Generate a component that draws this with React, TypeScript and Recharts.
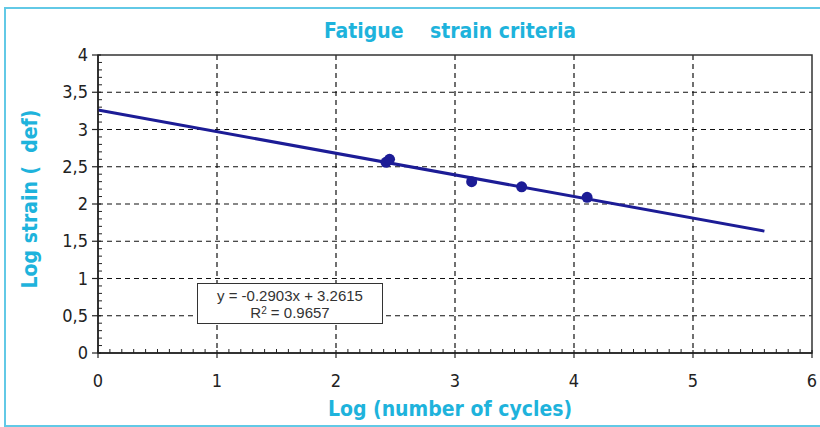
import { CartesianGrid, ComposedChart, Line, ReferenceArea, Scatter, XAxis, YAxis } from "recharts"

// measured points (log cycles, log strain)
const pointX = [2.42, 2.45, 3.14, 3.56, 4.11]
const pointY = [2.56, 2.6, 2.3, 2.23, 2.09]

// linear trend line y = -0.2903x + 3.2615
const trendX = [0, 5.6]
const trendY = [3.2615, 1.636]

const xLabels = [0, 1, 2, 3, 4, 5, 6]
const yLabels = [0, 0.5, 1, 1.5, 2, 2.5, 3, 3.5, 4]

const xTicks = Array.from({ length: 61 }, (_, i) => i / 10)
const yTicks = Array.from({ length: 41 }, (_, i) => i / 10)

const points = pointX.map((x, i) => ({ x, y: pointY[i] }))
const trend = trendX.map((x, i) => ({ x, y: trendY[i] }))

const CYAN = "#1eb3dc"
const NAVY = "#1c1c96"
const narrow = "'Liberation Sans Narrow', 'DejaVu Sans Condensed', 'Arial Narrow', sans-serif"

const isOn = (v: number, list: number[]) => list.some((l) => Math.abs(l - v) < 1e-6)

const XTick = ({ x, y, payload }: any) => {
  const v = payload.value
  const major = isOn(v, xLabels)
  return (
    <g>
      {major ? (
        <line x1={x} x2={x} y1={y - 3} y2={y + 5} stroke="#222" strokeWidth={1.2} />
      ) : (
        <line x1={x} x2={x} y1={y} y2={y - 4} stroke="#222" strokeWidth={1} />
      )}
      {major && (
        <text x={x} y={y + 34} textAnchor="middle" fontSize={18} fill="#222" fontFamily={narrow}>
          {v}
        </text>
      )}
    </g>
  )
}

const YTick = ({ x, y, payload }: any) => {
  const v = payload.value
  const major = isOn(v, yLabels)
  return (
    <g>
      {major ? (
        <line x1={x - 6} x2={x + 3} y1={y} y2={y} stroke="#222" strokeWidth={1.2} />
      ) : (
        <line x1={x} x2={x + 4} y1={y} y2={y} stroke="#222" strokeWidth={1} />
      )}
      {major && (
        <text x={x - 10} y={y + 6} textAnchor="end" fontSize={18} fill="#222" fontFamily={narrow}>
          {String(v).replace(".", ",")}
        </text>
      )}
    </g>
  )
}

const Dot = (props: any) => <circle cx={props.cx} cy={props.cy} r={5.5} fill={NAVY} />

export default function App() {
  return (
    <div style={{ position: "absolute", left: 0, top: 0, width: 820, height: 427, overflow: "hidden", background: "#fff" }}>
      <div
        style={{
          position: "absolute",
          left: 4,
          top: 7,
          width: 840,
          height: 416,
          border: "2px solid #62c9e6",
        }}
      />
      <ComposedChart width={820} height={427} margin={{ top: 55, right: 8, left: 0, bottom: 0 }}>
        <CartesianGrid
          horizontalValues={[0.5, 1, 1.5, 2, 2.5, 3, 3.5]}
          verticalValues={[1, 2, 3, 4, 5]}
          stroke="#111"
          strokeWidth={1.2}
          strokeDasharray="5 4"
        />
        <XAxis
          type="number"
          dataKey="x"
          domain={[0, 6]}
          ticks={xTicks}
          interval={0}
          height={74}
          tickSize={0}
          tickMargin={0}
          tickLine={false}
          axisLine={{ stroke: "#222", strokeWidth: 1.5 }}
          tick={<XTick />}
        />
        <YAxis
          type="number"
          dataKey="y"
          domain={[0, 4]}
          ticks={yTicks}
          interval={0}
          width={98}
          tickSize={0}
          tickMargin={0}
          tickLine={false}
          axisLine={{ stroke: "#222", strokeWidth: 1.5 }}
          tick={<YTick />}
        />
        <ReferenceArea x1={0} x2={6} y1={0} y2={4} fill="none" stroke="#333" strokeWidth={1.5} />
        <Line data={trend} dataKey="y" stroke={NAVY} strokeWidth={3} dot={false} isAnimationActive={false} />
        <Scatter data={points} shape={<Dot />} isAnimationActive={false} />
      </ComposedChart>
      <div
        style={{
          position: "absolute",
          left: 0,
          width: 900,
          top: 19,
          textAlign: "center",
          whiteSpace: "pre",
          color: CYAN,
          fontFamily: narrow,
          fontWeight: "bold",
          fontSize: 21,
        }}
      >
        {"Fatigue    strain criteria"}
      </div>
      <div
        style={{
          position: "absolute",
          left: 0,
          width: 900,
          top: 397,
          textAlign: "center",
          color: CYAN,
          fontFamily: narrow,
          fontWeight: "bold",
          fontSize: 21,
        }}
      >
        Log (number of cycles)
      </div>
      <div
        style={{
          position: "absolute",
          left: 30,
          top: 199,
          transform: "translate(-50%, -50%) rotate(-90deg)",
          whiteSpace: "pre",
          color: CYAN,
          fontFamily: narrow,
          fontWeight: "bold",
          fontSize: 21,
        }}
      >
        {"Log strain (  def)"}
      </div>
      <div
        style={{
          position: "absolute",
          left: 197,
          top: 283,
          width: 186,
          height: 41,
          border: "1px solid #333",
          background: "#fff",
          color: "#333",
          fontFamily: "'Liberation Sans', Arial, sans-serif",
          fontSize: 15,
          lineHeight: "17px",
          textAlign: "center",
          paddingTop: 3,
          boxSizing: "border-box",
        }}
      >
        <div>y = -0.2903x + 3.2615</div>
        <div>
          R<sup style={{ fontSize: 10, verticalAlign: "4px", lineHeight: 0 }}>2</sup> = 0.9657
        </div>
      </div>
    </div>
  )
}
